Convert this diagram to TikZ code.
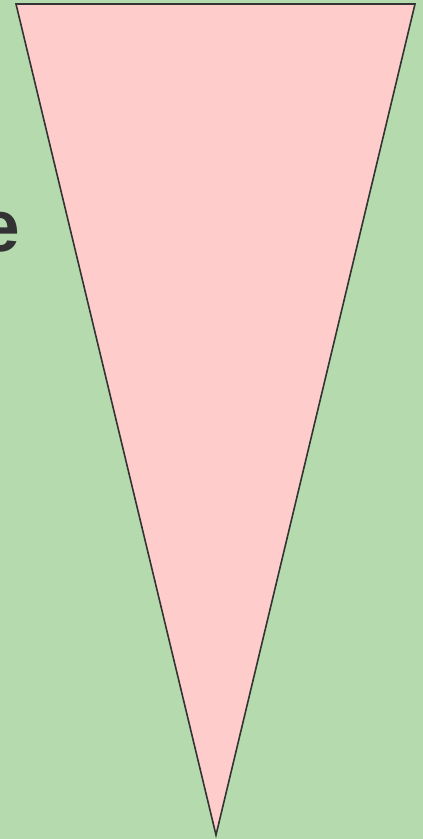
\documentclass[tikz,border=0pt]{standalone}
\usepackage{fontspec}
\setmainfont{Liberation Sans}
\definecolor{bggreen}{RGB}{180,218,174}
\definecolor{tripink}{RGB}{255,204,204}
\definecolor{edge}{RGB}{51,51,51}
\begin{document}
\begin{tikzpicture}[x=1pt,y=-1pt,
  tri/.style={fill=tripink,draw=edge,line width=1.6pt,line join=miter}]
\useasboundingbox (0,0) rectangle (423,839);
\fill[bggreen] (0,0) rectangle (423,839);
\node[anchor=base east,inner sep=0pt,text=edge,font=\fontsize{73}{80}\selectfont\bfseries] (e) at (20,251) {e};
\coordinate (tl) at (16,4);
\coordinate (tr) at (415,4);
\coordinate (bt) at (216,835);
\draw[tri] (tl) -- (tr) -- (bt) -- cycle;
\end{tikzpicture}
\end{document}
